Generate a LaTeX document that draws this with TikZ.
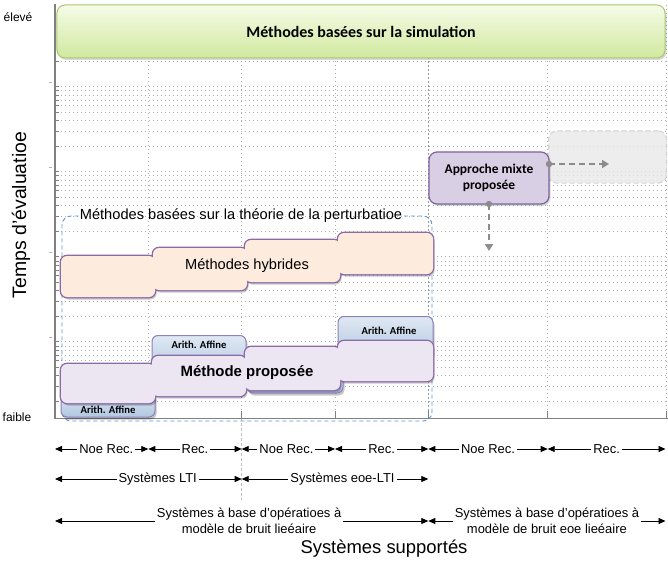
\documentclass[tikz,border=0pt]{standalone}
\usepackage{fontspec}
\setmainfont{Liberation Sans}
\newfontfamily\calib{Carlito}
\usetikzlibrary{arrows.meta,shadows,calc}
\definecolor{purpB}{RGB}{139,107,166}
\definecolor{hybF}{RGB}{253,235,222}
\definecolor{propF}{RGB}{236,229,242}
\definecolor{blueT}{RGB}{224,233,244}
\definecolor{blueB}{RGB}{176,198,224}
\definecolor{blueD}{RGB}{140,130,185}
\definecolor{grnT}{RGB}{246,251,232}
\definecolor{grnB}{RGB}{208,233,158}
\definecolor{grnD}{RGB}{168,198,112}
\definecolor{dashB}{RGB}{95,150,210}
\definecolor{mixF}{RGB}{217,207,228}
\definecolor{mixD}{RGB}{125,100,160}
\definecolor{gridC}{RGB}{175,175,175}
\definecolor{axisC}{RGB}{128,128,128}
\definecolor{arrC}{RGB}{140,140,140}
\tikzset{
  gridline/.style={gridC, line width=0.6bp, dash pattern=on 0.8bp off 3.2bp},
  dimline/.style={black, line width=0.8bp, {Triangle[length=7bp,width=6bp]}-{Triangle[length=7bp,width=6bp]}},
  dimlabel/.style={fill=white, inner sep=2bp, font=\fontsize{13}{15.5}\selectfont, align=center},
  grayarrow/.style={arrC, line width=2bp, dash pattern=on 6bp off 4bp, -{Triangle[length=7bp,width=8bp]}},
  arithlabel/.style={font=\calib\bfseries\fontsize{10.7}{12}\selectfont},
}
\begin{document}
\begin{tikzpicture}[x=1bp,y=-1bp]
\useasboundingbox (0,0) rectangle (668,569);
\fill[white] (0,0) rectangle (668,569);
% grid
\foreach \yy in {61.1,86.7,90.8,95.0,99.9,105.6,112.3,120.5,131.1,146.1,171.7,175.8,180.0,184.9,190.6,197.3,205.5,216.1,231.1,256.7,260.8,265.0,269.9,275.6,282.3,290.5,301.1,316.1,341.7,345.8,350.0,354.9,360.6,367.3,375.5,386.1,401.1}
  {\draw[gridline] (57,\yy) -- (667,\yy);
   \draw[axisC, line width=0.6bp] (55,\yy) -- (59,\yy);}
\foreach \yy in {86.7,171.7,256.7,341.7}
  {\draw[axisC!60, line width=0.6bp] (49,\yy-4) -- (52,\yy-4);}
\foreach \xx in {148.3,241.7,335,547.7,666.5}
  {\draw[gridline] (\xx,5) -- (\xx,418);
   \draw[axisC, line width=0.8bp] (\xx,418) -- (\xx,411);}
\draw[axisC!80, line width=0.8bp, dash pattern=on 2bp off 2bp] (428.3,5) -- (428.3,418);
\draw[axisC, line width=0.8bp] (428.3,418) -- (428.3,411);
\draw[gray!50, line width=0.5bp, dash pattern=on 3bp off 2bp] (241.7,418) -- (241.7,500);
% axes
\draw[axisC, line width=1.3bp] (55,418.5) -- (668,418.5);
\draw[axisC, line width=2bp] (55,4) -- (55,419);
% simulation box
\node[draw=grnD, line width=1bp, top color=grnT, bottom color=grnB, rounded corners=8bp,
      minimum width=608bp, minimum height=53bp, drop shadow={opacity=0.3,shadow xshift=1.5bp,shadow yshift=-2bp},
      font=\calib\bfseries\fontsize{16}{19}\selectfont] (sim) at (361,31.5) {Méthodes basées sur la simulation};
% perturbation theory dashed frame
\node[font=\fontsize{14.7}{17}\selectfont, inner sep=1bp] (pert) at (241,216) {Méthodes basées sur la théorie de la perturbatioe};
\draw[dashB, line width=0.9bp, dash pattern=on 4bp off 3bp, rounded corners=9bp]
  (pert.west |- 0,216) -| (62,421) -| (432,216) -- (pert.east |- 0,216);
% hybrid staircase
\begin{scope}[transparency group, opacity=0.22]
\foreach \a/\b/\c/\d in {61/256/155/297,153/248/247/290,245/240/340/282,338/233/433/274}
  {\fill[black, rounded corners=6bp] (\a+1.5,\b+2.5) rectangle (\c+1.5,\d+2.5);}
\end{scope}
\foreach \a/\b/\c/\d in {61/256/155/297,153/248/247/290,245/240/340/282,338/233/433/274}
  {\draw[purpB, line width=2.6bp, rounded corners=6bp] (\a,\b) rectangle (\c,\d);}
\foreach \a/\b/\c/\d in {61/256/155/297,153/248/247/290,245/240/340/282,338/233/433/274}
  {\fill[hybF, rounded corners=6bp] (\a,\b) rectangle (\c,\d);}
\node[font=\fontsize{14.7}{17}\selectfont] (hyb) at (247,266) {Méthodes hybrides};
% arith affine boxes
\begin{scope}[transparency group, opacity=0.22]
\foreach \a/\b/\c/\d in {61/392/155/417,152/335.5/246/375,247/349/343/393,338/316.5/433/358}
  {\fill[black, rounded corners=6bp] (\a+1.5,\b+2.5) rectangle (\c+1.5,\d+2.5);}
\end{scope}
\foreach \a/\b/\c/\d in {61/392/155/417,152/335.5/246/375,247/349/343/393,338/316.5/433/358}
  {\draw[blueD, line width=1bp, top color=blueT, bottom color=blueB, rounded corners=6bp] (\a,\b) rectangle (\c,\d);}
\node[arithlabel] (ar1) at (108,409.5) {Arith. Affine};
\node[arithlabel] (ar2) at (199,344.5) {Arith. Affine};
\node[arithlabel] (ar4) at (389,331) {Arith. Affine};
% proposed method staircase
\begin{scope}[transparency group, opacity=0.22]
\foreach \a/\b/\c/\d in {61/364/155/403,152/356/246/396,245/347/340/390,338/341/433/381}
  {\fill[black, rounded corners=6bp] (\a+1.5,\b+2.5) rectangle (\c+1.5,\d+2.5);}
\end{scope}
\foreach \a/\b/\c/\d in {61/364/155/403,152/356/246/396,245/347/340/390,338/341/433/381}
  {\draw[purpB, line width=2.6bp, rounded corners=6bp] (\a,\b) rectangle (\c,\d);}
\foreach \a/\b/\c/\d in {61/364/155/403,152/356/246/396,245/347/340/390,338/341/433/381}
  {\fill[propF, rounded corners=6bp] (\a,\b) rectangle (\c,\d);}
\node[font=\bfseries\fontsize{15}{17}\selectfont] (prop) at (247,373) {Méthode proposée};
% future (gray) box
\node[draw=gray!35, line width=1bp, dash pattern=on 5bp off 3bp, fill=gray!18, fill opacity=0.75,
      rounded corners=8bp, minimum width=118bp, minimum height=52bp] (fut) at (607.5,157) {};
% mixed approach box
\node[draw=mixD, line width=1.2bp, fill=mixF, rounded corners=8bp, minimum width=120bp, minimum height=52bp,
      drop shadow={opacity=0.3,shadow xshift=1.5bp,shadow yshift=-2bp},
      align=center, font=\calib\bfseries\fontsize{13.5}{16.5}\selectfont] (mix) at (489,178) {Approche mixte\\proposée};
\coordinate (m1) at (549,164);
\coordinate (m2) at (609,164);
\coordinate (m3) at (489,204);
\coordinate (m4) at (489,251);
\draw[grayarrow] (m1) -- (m2);
\draw[grayarrow] (m3) -- (m4);
\fill[arrC] (m1) circle (3.2bp);
\fill[arrC] (m3) circle (3.2bp);
% axis labels
\node[font=\fontsize{12}{14}\selectfont] (hi) at (18,17) {élevé};
\node[font=\fontsize{12}{14}\selectfont] (lo) at (17,417) {faible};
\node[font=\fontsize{19.5}{23}\selectfont, rotate=90] (ylab) at (21,215) {Temps d'évaluatioe};
\node[font=\fontsize{18.5}{22}\selectfont] (xlab) at (384,549) {Systèmes supportés};
% dimension rows
\foreach \n/\x in {0/55,1/148.3,2/241.7,3/335,4/428.3,5/547.7,6/665.5}
  {\coordinate (u\n) at (\x,449);
   \coordinate (v\n) at (\x,479);
   \coordinate (w\n) at (\x,521);}
\draw[dimline] (u0) -- node[dimlabel, pos=0.55] {Noe Rec.} (u1);
\draw[dimline] (u1) -- node[dimlabel] {Rec.} (u2);
\draw[dimline] (u2) -- node[dimlabel, pos=0.48] {Noe Rec.} (u3);
\draw[dimline] (u3) -- node[dimlabel] {Rec.} (u4);
\draw[dimline] (u4) -- node[dimlabel] {Noe Rec.} (u5);
\draw[dimline] (u5) -- node[dimlabel] {Rec.} (u6);
\draw[dimline] (v0) -- node[dimlabel, pos=0.55] {Systèmes LTI} (v2);
\draw[dimline] (v2) -- node[dimlabel, pos=0.54] {Systèmes eoe-LTI} (v4);
\draw[dimline] (w0) -- node[dimlabel, pos=0.52] {Systèmes à base d'opératioes à\\modèle de bruit lieéaire} (w4);
\draw[dimline] (w4) -- node[dimlabel] {Systèmes à base d'opératioes à\\modèle de bruit eoe lieéaire} (w6);
\end{tikzpicture}
\end{document}
